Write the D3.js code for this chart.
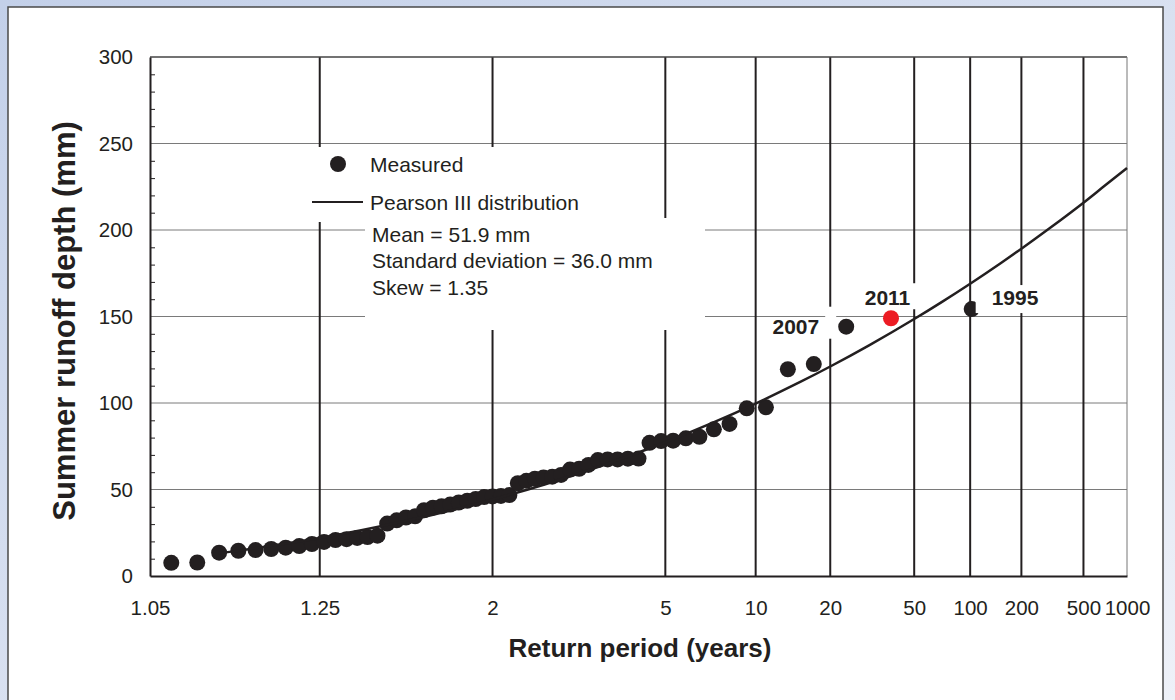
<!DOCTYPE html>
<html>
<head>
<meta charset="utf-8">
<script src="https://cdn.jsdelivr.net/npm/d3@7"></script>
<style>
  html, body { margin: 0; padding: 0; }
  body { width: 1175px; height: 700px; overflow: hidden; font-family: "Liberation Sans", Arial, sans-serif; }
</style>
</head>
<body>
<div id="chart"></div>
<script>
// return periods (years) shown on the probability axis
var returnTicks = [1.05, 1.25, 2, 5, 10, 20, 50, 100, 200, 500, 1000];
var gridPeriods = [1.25, 2, 5, 10, 20, 50, 100, 200, 500];
var depthTicks = [0, 50, 100, 150, 200, 250, 300];

// measured summer runoff, ranked (return period from plotting position)
var measuredPeriod = [1.0625, 1.0813, 1.1007, 1.1209, 1.1418, 1.1635, 1.1860, 1.2095, 1.2339, 1.2593,
  1.2857, 1.3133, 1.3421, 1.3722, 1.4037, 1.4366, 1.4712, 1.5074, 1.5455, 1.5855,
  1.6277, 1.6721, 1.7191, 1.7688, 1.8214, 1.8773, 1.9367, 2.0, 2.0676, 2.1399,
  2.2174, 2.3008, 2.3906, 2.4878, 2.5932, 2.7080, 2.8333, 2.9709, 3.1224, 3.2903,
  3.4773, 3.6867, 3.9231, 4.1918, 4.5, 4.8571, 5.2759, 5.7736, 6.375, 7.1163,
  8.0526, 9.2727, 10.929, 13.304, 17.0, 23.538, 38.25, 102.0];
var measuredDepth = [7.6, 7.8, 13.5, 14.6, 15.0, 15.6, 16.4, 17.3, 18.5, 19.7,
  20.8, 21.3, 22.0, 22.5, 23.3, 30.3, 32.2, 33.8, 34.5, 38.0,
  39.5, 40.3, 41.3, 42.5, 43.5, 44.5, 45.6, 46.0, 46.3, 46.8,
  53.6, 55.0, 56.2, 57.0, 57.4, 58.4, 61.5, 62.0, 64.2, 67.0,
  67.4, 67.4, 67.8, 67.9, 77.0, 78.0, 78.2, 79.6, 80.5, 84.8,
  87.9, 96.9, 97.5, 119.5, 122.5, 144.1, 149.0, 154.3];

// Pearson III fit (mean 51.9, sd 36.0, skew 1.35)
var curvePeriod = [1.1, 1.15, 1.2, 1.25, 1.35, 1.5, 1.75, 2, 2.5, 3, 4, 5, 7, 10, 15, 20, 30, 50, 70, 100, 150, 200, 300, 500, 700, 1000];
var curveDepth = [13.14, 16.58, 19.46, 21.98, 26.30, 31.61, 38.61, 44.20, 52.93, 59.65, 69.78, 77.32, 88.35, 99.70, 112.29, 121.09, 133.32, 148.53, 158.47, 168.95, 180.80, 189.18, 200.98, 215.78, 225.69, 235.83];

// labelled years
var labelYears = ["2007", "2011", "1995"];
var labelPeriods = [23.538, 38.25, 102.0];
var labelDepths = [144.1, 149.0, 154.3];
var redYear = "2011";

var statLines = ["Mean = 51.9 mm", "Standard deviation = 36.0 mm", "Skew = 1.35"];

var W = 1175, H = 700;
var plotL = 150, plotR = 1127, plotT = 57, plotB = 576;
var ink = "#231f20";

// inverse standard normal (Acklam)
function probit(p) {
  var a = [-39.6968302866538, 220.946098424521, -275.928510446969, 138.357751867269, -30.6647980661472, 2.50662827745924];
  var b = [-54.4760987982241, 161.585836858041, -155.698979859887, 66.8013118877197, -13.2806815528857];
  var c = [-0.00778489400243029, -0.322396458041136, -2.40075827716184, -2.54973253934373, 4.37466414146497, 2.93816398269878];
  var d = [0.00778469570904146, 0.32246712907004, 2.445134137143, 3.75440866190742];
  var q, r;
  if (p < 0.02425) {
    q = Math.sqrt(-2 * Math.log(p));
    return (((((c[0]*q+c[1])*q+c[2])*q+c[3])*q+c[4])*q+c[5]) / ((((d[0]*q+d[1])*q+d[2])*q+d[3])*q+1);
  }
  if (p > 1 - 0.02425) {
    q = Math.sqrt(-2 * Math.log(1 - p));
    return -(((((c[0]*q+c[1])*q+c[2])*q+c[3])*q+c[4])*q+c[5]) / ((((d[0]*q+d[1])*q+d[2])*q+d[3])*q+1);
  }
  q = p - 0.5; r = q * q;
  return (((((a[0]*r+a[1])*r+a[2])*r+a[3])*r+a[4])*r+a[5])*q / (((((b[0]*r+b[1])*r+b[2])*r+b[3])*r+b[4])*r+1);
}
function zOf(T) { return probit(1 - 1 / T); }

var x = d3.scaleLinear().domain([zOf(1.05), zOf(1000)]).range([plotL, plotR]);
var y = d3.scaleLinear().domain([0, 300]).range([plotB, plotT]);
function xT(T) { return x(zOf(T)); }

var svg = d3.select("#chart").append("svg")
  .attr("width", W).attr("height", H);

var defs = svg.append("defs");
var grad = defs.append("linearGradient").attr("id", "bg")
  .attr("x1", "0%").attr("y1", "0%").attr("x2", "100%").attr("y2", "100%");
grad.append("stop").attr("offset", "0%").attr("stop-color", "#c3d0e9");
grad.append("stop").attr("offset", "100%").attr("stop-color", "#eef1f8");

svg.append("rect").attr("width", W).attr("height", H).attr("fill", "url(#bg)");
svg.append("rect")
  .attr("x", 8).attr("y", 7).attr("width", 1155).attr("height", 720)
  .attr("fill", "#fff").attr("stroke", "#4a4a4a").attr("stroke-width", 1.5);

// horizontal grid
svg.append("g").selectAll("line")
  .data(depthTicks.filter(function(d) { return d > 0 && d < 300; }))
  .enter().append("line")
    .attr("x1", plotL).attr("x2", plotR)
    .attr("y1", function(d) { return y(d); })
    .attr("y2", function(d) { return y(d); })
    .attr("stroke", "#7a7a7a").attr("stroke-width", 1);

// vertical grid
svg.append("g").selectAll("line")
  .data(gridPeriods)
  .enter().append("line")
    .attr("x1", function(d) { return xT(d); })
    .attr("x2", function(d) { return xT(d); })
    .attr("y1", plotT).attr("y2", plotB)
    .attr("stroke", ink).attr("stroke-width", 2);

// plot frame (top / right)
svg.append("line").attr("x1", plotL).attr("x2", plotR).attr("y1", y(300)).attr("y2", y(300))
  .attr("stroke", "#444").attr("stroke-width", 1.5);
svg.append("line").attr("x1", plotR).attr("x2", plotR).attr("y1", plotT).attr("y2", plotB)
  .attr("stroke", "#777").attr("stroke-width", 1);

// white boxes behind legend and stats text
svg.append("rect").attr("x", 303).attr("y", 147).attr("width", 297).attr("height", 75).attr("fill", "#fff");
svg.append("rect").attr("x", 365).attr("y", 218).attr("width", 340).attr("height", 112).attr("fill", "#fff");

// measured points
svg.append("g").selectAll("circle")
  .data(measuredPeriod)
  .enter().append("circle")
    .attr("cx", function(d) { return xT(d); })
    .attr("cy", function(d, i) { return y(measuredDepth[i]); })
    .attr("r", 8)
    .attr("fill", function(d, i) {
      var k = labelPeriods.indexOf(d);
      return (k >= 0 && labelYears[k] == redYear) ? "#ec1c24" : ink;
    });

// year labels with white backing
var lab = svg.append("g");
labelYears.forEach(function(yr, i) {
  var px = xT(labelPeriods[i]), py = y(labelDepths[i]);
  if (yr == "2007") {
    lab.append("rect").attr("x", px - 77).attr("y", py - 9).attr("width", 67).attr("height", 21).attr("fill", "#fff");
    lab.append("rect").attr("x", px - 21).attr("y", py - 20).attr("width", 11).attr("height", 12).attr("fill", "#fff");
    lab.append("text").attr("x", px - 27).attr("y", py + 7).attr("text-anchor", "end").text(yr);
  } else if (yr == "2011") {
    lab.append("rect").attr("x", px - 31).attr("y", py - 35).attr("width", 58).attr("height", 26).attr("fill", "#fff");
    lab.append("text").attr("x", px - 3.5).attr("y", py - 13).attr("text-anchor", "middle").text(yr);
  } else {
    lab.append("rect").attr("x", px + 4).attr("y", py - 24).attr("width", 68).attr("height", 28).attr("fill", "#fff");
    lab.append("text").attr("x", px + 20).attr("y", py - 4).attr("text-anchor", "start").text(yr);
  }
});
lab.selectAll("text").attr("font-size", "21px").attr("font-weight", "bold").attr("fill", ink);

// Pearson III curve
var line = d3.line()
  .x(function(d) { return xT(d); })
  .y(function(d, i) { return y(curveDepth[i]); })
  .curve(d3.curveMonotoneX);
svg.append("path").datum(curvePeriod)
  .attr("d", line).attr("fill", "none")
  .attr("stroke", ink).attr("stroke-width", 2.5);

// y axis
var yAxis = svg.append("g").attr("transform", "translate(" + plotL + ",0)")
  .call(d3.axisLeft(y).tickValues(depthTicks).tickSize(0).tickSizeOuter(0).tickPadding(17));
yAxis.select(".domain").attr("stroke", ink).attr("stroke-width", 2);
yAxis.selectAll("text").attr("font-size", "20.5px").attr("fill", ink)
  .attr("font-family", "Liberation Sans, Arial, sans-serif");

var minor = d3.range(10, 300, 10).filter(function(d) { return d % 50 != 0; });
var yMinor = svg.append("g").attr("transform", "translate(" + plotL + ",0)")
  .call(d3.axisRight(y).tickValues(minor).tickSize(5).tickSizeOuter(0).tickFormat(""));
yMinor.select(".domain").remove();
yMinor.selectAll("line").attr("stroke", ink).attr("stroke-width", 1);

// x axis
var xAxis = svg.append("g").attr("transform", "translate(0," + plotB + ")")
  .call(d3.axisBottom(x).tickValues(returnTicks.map(zOf)).tickSize(0).tickSizeOuter(0).tickPadding(24)
    .tickFormat(function(d, i) { return returnTicks[i]; }));
xAxis.select(".domain").attr("stroke", ink).attr("stroke-width", 2);
xAxis.selectAll("text").attr("font-size", "20.5px").attr("fill", ink)
  .attr("font-family", "Liberation Sans, Arial, sans-serif");

// axis titles
svg.append("text")
  .attr("x", 640).attr("y", 657)
  .attr("text-anchor", "middle").attr("font-size", "26px").attr("font-weight", "bold").attr("fill", ink)
  .text("Return period (years)");
svg.append("text")
  .attr("transform", "translate(75,321) rotate(-90)")
  .attr("text-anchor", "middle").attr("font-size", "31px").attr("font-weight", "bold").attr("fill", ink)
  .text("Summer runoff depth (mm)");

// legend
var leg = svg.append("g").attr("font-size", "21px").attr("fill", ink);
leg.append("circle").attr("cx", 338).attr("cy", 164).attr("r", 8).attr("fill", ink);
leg.append("text").attr("x", 370).attr("y", 172).text("Measured");
leg.append("line").attr("x1", 312).attr("x2", 363).attr("y1", 202).attr("y2", 202)
  .attr("stroke", ink).attr("stroke-width", 2);
leg.append("text").attr("x", 370).attr("y", 210).text("Pearson III distribution");
leg.selectAll("text.stat").data(statLines).enter().append("text")
  .attr("class", "stat")
  .attr("x", 372)
  .attr("y", function(d, i) { return 241.7 + i * 26.7; })
  .text(function(d) { return d; });
</script>
</body>
</html>
